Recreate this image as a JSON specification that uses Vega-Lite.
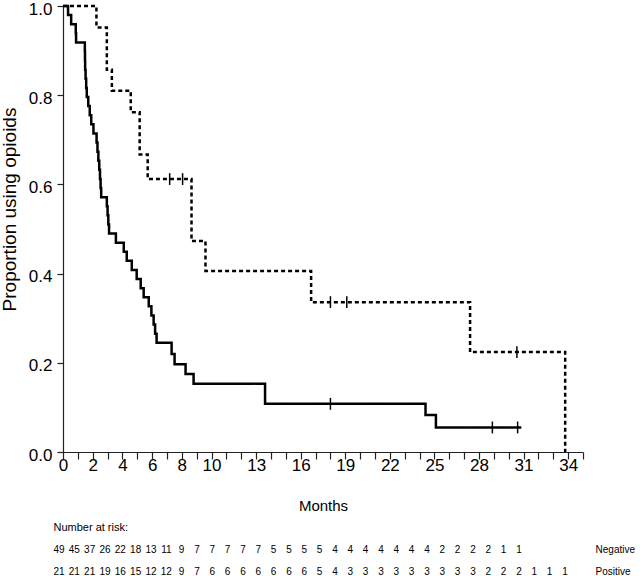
{
  "$schema": "https://vega.github.io/schema/vega-lite/v6.json",
  "padding": {"left": 0, "top": 0, "right": 0, "bottom": 0},
  "bounds": "flush",
  "spacing": 86.5,
  "config": {
    "font": "Liberation Sans",
    "view": {"stroke": null},
    "axis": {"domainColor": "#222", "tickColor": "#222", "labelColor": "#000", "titleColor": "#000", "grid": false, "labelFontSize": 17, "titleFontSize": 15, "titleFontWeight": "normal", "domainWidth": 1.2, "tickWidth": 1.2}
  },
  "datasets": {
    "curves": [
      {"group": "Negative", "month": 0, "surv": 1.0},
      {"group": "Negative", "month": 0.34, "surv": 0.980},
      {"group": "Negative", "month": 0.55, "surv": 0.959},
      {"group": "Negative", "month": 0.86, "surv": 0.939},
      {"group": "Negative", "month": 0.88, "surv": 0.918},
      {"group": "Negative", "month": 1.47, "surv": 0.898},
      {"group": "Negative", "month": 1.48, "surv": 0.878},
      {"group": "Negative", "month": 1.49, "surv": 0.857},
      {"group": "Negative", "month": 1.52, "surv": 0.837},
      {"group": "Negative", "month": 1.56, "surv": 0.816},
      {"group": "Negative", "month": 1.60, "surv": 0.796},
      {"group": "Negative", "month": 1.70, "surv": 0.776},
      {"group": "Negative", "month": 1.80, "surv": 0.755},
      {"group": "Negative", "month": 1.90, "surv": 0.735},
      {"group": "Negative", "month": 2.05, "surv": 0.714},
      {"group": "Negative", "month": 2.26, "surv": 0.694},
      {"group": "Negative", "month": 2.32, "surv": 0.673},
      {"group": "Negative", "month": 2.38, "surv": 0.653},
      {"group": "Negative", "month": 2.44, "surv": 0.633},
      {"group": "Negative", "month": 2.49, "surv": 0.612},
      {"group": "Negative", "month": 2.53, "surv": 0.592},
      {"group": "Negative", "month": 2.57, "surv": 0.571},
      {"group": "Negative", "month": 2.95, "surv": 0.551},
      {"group": "Negative", "month": 3.00, "surv": 0.531},
      {"group": "Negative", "month": 3.05, "surv": 0.510},
      {"group": "Negative", "month": 3.10, "surv": 0.490},
      {"group": "Negative", "month": 3.56, "surv": 0.469},
      {"group": "Negative", "month": 4.09, "surv": 0.449},
      {"group": "Negative", "month": 4.29, "surv": 0.429},
      {"group": "Negative", "month": 4.63, "surv": 0.408},
      {"group": "Negative", "month": 4.96, "surv": 0.388},
      {"group": "Negative", "month": 5.23, "surv": 0.367},
      {"group": "Negative", "month": 5.43, "surv": 0.347},
      {"group": "Negative", "month": 5.77, "surv": 0.327},
      {"group": "Negative", "month": 5.95, "surv": 0.306},
      {"group": "Negative", "month": 6.10, "surv": 0.286},
      {"group": "Negative", "month": 6.20, "surv": 0.265},
      {"group": "Negative", "month": 6.30, "surv": 0.245},
      {"group": "Negative", "month": 7.31, "surv": 0.220},
      {"group": "Negative", "month": 7.51, "surv": 0.197},
      {"group": "Negative", "month": 8.25, "surv": 0.175},
      {"group": "Negative", "month": 8.79, "surv": 0.153},
      {"group": "Negative", "month": 13.6, "surv": 0.108},
      {"group": "Negative", "month": 24.4, "surv": 0.083},
      {"group": "Negative", "month": 25.1, "surv": 0.055},
      {"group": "Negative", "month": 30.85, "surv": 0.055},
      {"group": "Positive", "month": 0, "surv": 1.0},
      {"group": "Positive", "month": 2.25, "surv": 0.952},
      {"group": "Positive", "month": 2.95, "surv": 0.857},
      {"group": "Positive", "month": 3.29, "surv": 0.810},
      {"group": "Positive", "month": 4.56, "surv": 0.762},
      {"group": "Positive", "month": 5.16, "surv": 0.667},
      {"group": "Positive", "month": 5.70, "surv": 0.612},
      {"group": "Positive", "month": 8.65, "surv": 0.473},
      {"group": "Positive", "month": 9.59, "surv": 0.406},
      {"group": "Positive", "month": 16.7, "surv": 0.336},
      {"group": "Positive", "month": 27.4, "surv": 0.224},
      {"group": "Positive", "month": 33.8, "surv": 0.0}
    ],
    "censors": [
      {"group": "Negative", "month": 18.0, "surv": 0.108},
      {"group": "Negative", "month": 28.9, "surv": 0.055},
      {"group": "Negative", "month": 30.6, "surv": 0.055},
      {"group": "Positive", "month": 7.18, "surv": 0.612},
      {"group": "Positive", "month": 8.05, "surv": 0.612},
      {"group": "Positive", "month": 18.0, "surv": 0.336},
      {"group": "Positive", "month": 19.1, "surv": 0.336},
      {"group": "Positive", "month": 30.55, "surv": 0.224}
    ],
    "risk": [
      {"group": "Negative", "month": 0, "n": 49}, {"group": "Negative", "month": 1, "n": 45}, {"group": "Negative", "month": 2, "n": 37}, {"group": "Negative", "month": 3, "n": 26},
      {"group": "Negative", "month": 4, "n": 22}, {"group": "Negative", "month": 5, "n": 18}, {"group": "Negative", "month": 6, "n": 13}, {"group": "Negative", "month": 7, "n": 11},
      {"group": "Negative", "month": 8, "n": 9}, {"group": "Negative", "month": 9, "n": 7}, {"group": "Negative", "month": 10, "n": 7}, {"group": "Negative", "month": 11, "n": 7},
      {"group": "Negative", "month": 12, "n": 7}, {"group": "Negative", "month": 13, "n": 7}, {"group": "Negative", "month": 14, "n": 5}, {"group": "Negative", "month": 15, "n": 5},
      {"group": "Negative", "month": 16, "n": 5}, {"group": "Negative", "month": 17, "n": 5}, {"group": "Negative", "month": 18, "n": 4}, {"group": "Negative", "month": 19, "n": 4},
      {"group": "Negative", "month": 20, "n": 4}, {"group": "Negative", "month": 21, "n": 4}, {"group": "Negative", "month": 22, "n": 4}, {"group": "Negative", "month": 23, "n": 4},
      {"group": "Negative", "month": 24, "n": 4}, {"group": "Negative", "month": 25, "n": 2}, {"group": "Negative", "month": 26, "n": 2}, {"group": "Negative", "month": 27, "n": 2},
      {"group": "Negative", "month": 28, "n": 2}, {"group": "Negative", "month": 29, "n": 1}, {"group": "Negative", "month": 30, "n": 1},
      {"group": "Positive", "month": 0, "n": 21}, {"group": "Positive", "month": 1, "n": 21}, {"group": "Positive", "month": 2, "n": 21}, {"group": "Positive", "month": 3, "n": 19},
      {"group": "Positive", "month": 4, "n": 16}, {"group": "Positive", "month": 5, "n": 15}, {"group": "Positive", "month": 6, "n": 12}, {"group": "Positive", "month": 7, "n": 12},
      {"group": "Positive", "month": 8, "n": 9}, {"group": "Positive", "month": 9, "n": 7}, {"group": "Positive", "month": 10, "n": 6}, {"group": "Positive", "month": 11, "n": 6},
      {"group": "Positive", "month": 12, "n": 6}, {"group": "Positive", "month": 13, "n": 6}, {"group": "Positive", "month": 14, "n": 6}, {"group": "Positive", "month": 15, "n": 6},
      {"group": "Positive", "month": 16, "n": 6}, {"group": "Positive", "month": 17, "n": 5}, {"group": "Positive", "month": 18, "n": 4}, {"group": "Positive", "month": 19, "n": 3},
      {"group": "Positive", "month": 20, "n": 3}, {"group": "Positive", "month": 21, "n": 3}, {"group": "Positive", "month": 22, "n": 3}, {"group": "Positive", "month": 23, "n": 3},
      {"group": "Positive", "month": 24, "n": 3}, {"group": "Positive", "month": 25, "n": 3}, {"group": "Positive", "month": 26, "n": 3}, {"group": "Positive", "month": 27, "n": 3},
      {"group": "Positive", "month": 28, "n": 2}, {"group": "Positive", "month": 29, "n": 2}, {"group": "Positive", "month": 30, "n": 2}, {"group": "Positive", "month": 31, "n": 1},
      {"group": "Positive", "month": 32, "n": 1}, {"group": "Positive", "month": 33, "n": 1}
    ],
    "groups": [{"group": "Negative"}, {"group": "Positive"}]
  },
  "resolve": {"scale": {"x": "independent", "y": "independent"}},
  "vconcat": [
    {
      "width": 520,
      "height": 446,
      "encoding": {
        "x": {"type": "quantitative", "scale": {"domain": [0, 35], "nice": false, "zero": false},
              "axis": {"title": "Months", "values": [0,1,2,3,4,5,6,7,8,9,10,11,12,13,14,15,16,17,18,19,20,21,22,23,24,25,26,27,28,29,30,31,32,33,34,35],
                       "labelExpr": "indexof([0,2,4,6,8,10,13,16,19,22,25,28,31,34], datum.value) >= 0 ? datum.label : ''",
                       "labelOverlap": false, "labelFlush": false, "tickSize": 7, "labelPadding": -2, "titlePadding": 25, "titleFontSize": 15}},
        "y": {"type": "quantitative", "scale": {"domain": [0, 1], "nice": false},
              "axis": {"title": "Proportion using opioids", "values": [0, 0.2, 0.4, 0.6, 0.8, 1.0], "format": ".1f", "tickSize": 6, "labelPadding": 5, "labelOffset": 3, "titlePadding": 9, "titleFontSize": 19, "titleY": 203}}
      },
      "layer": [
        {
          "data": {"name": "curves"},
          "mark": {"type": "line", "interpolate": "step-after", "color": "black", "strokeWidth": 2.5, "strokeCap": "butt"},
          "encoding": {
            "x": {"field": "month", "type": "quantitative"},
            "y": {"field": "surv", "type": "quantitative"},
            "strokeDash": {"field": "group", "type": "nominal", "scale": {"domain": ["Negative", "Positive"], "range": [[1, 0], [4, 3]]}, "legend": null}
          }
        },
        {
          "data": {"name": "censors"},
          "mark": {"type": "point", "shape": "M0,-1L0,1", "size": 140, "filled": false, "stroke": "black", "strokeWidth": 1.5, "opacity": 1},
          "encoding": {
            "x": {"field": "month", "type": "quantitative"},
            "y": {"field": "surv", "type": "quantitative"}
          }
        },
        {
          "mark": {"type": "text", "text": "Positive", "align": "left", "baseline": "middle", "fontSize": 15},
          "encoding": {"x": {"datum": 10.24}, "y": {"datum": 0.426}}
        },
        {
          "mark": {"type": "text", "text": "Negative", "align": "left", "baseline": "middle", "fontSize": 15},
          "encoding": {"x": {"datum": 9.56}, "y": {"datum": 0.179}}
        },
        {
          "mark": {"type": "text", "text": "p", "align": "left", "baseline": "middle", "fontSize": 15, "fontStyle": "italic"},
          "encoding": {"x": {"datum": 29.16}, "y": {"datum": 0.978}}
        },
        {
          "mark": {"type": "text", "text": "= .002", "align": "left", "baseline": "middle", "fontSize": 15, "dx": 12},
          "encoding": {"x": {"datum": 29.16}, "y": {"datum": 0.978}}
        }
      ]
    },
    {
      "width": 520,
      "height": 44,
      "title": {"text": "Number at risk:", "anchor": "start", "fontSize": 11, "fontWeight": "normal", "offset": 6, "color": "#000"},
      "encoding": {
        "x": {"type": "quantitative", "scale": {"domain": [0.26, 34.18], "nice": false, "zero": false}, "axis": null},
        "y": {"field": "group", "type": "nominal", "scale": {"domain": ["Negative", "Positive"], "padding": 0.5}, "axis": null}
      },
      "layer": [
        {
          "data": {"name": "risk"},
          "mark": {"type": "text", "fontSize": 10, "baseline": "middle"},
          "encoding": {"x": {"field": "month", "type": "quantitative"}, "text": {"field": "n", "type": "quantitative"}}
        },
        {
          "data": {"name": "groups"},
          "mark": {"type": "text", "fontSize": 10, "align": "left", "baseline": "middle"},
          "encoding": {"x": {"datum": 35.0}, "text": {"field": "group", "type": "nominal"}}
        }
      ]
    }
  ]
}
